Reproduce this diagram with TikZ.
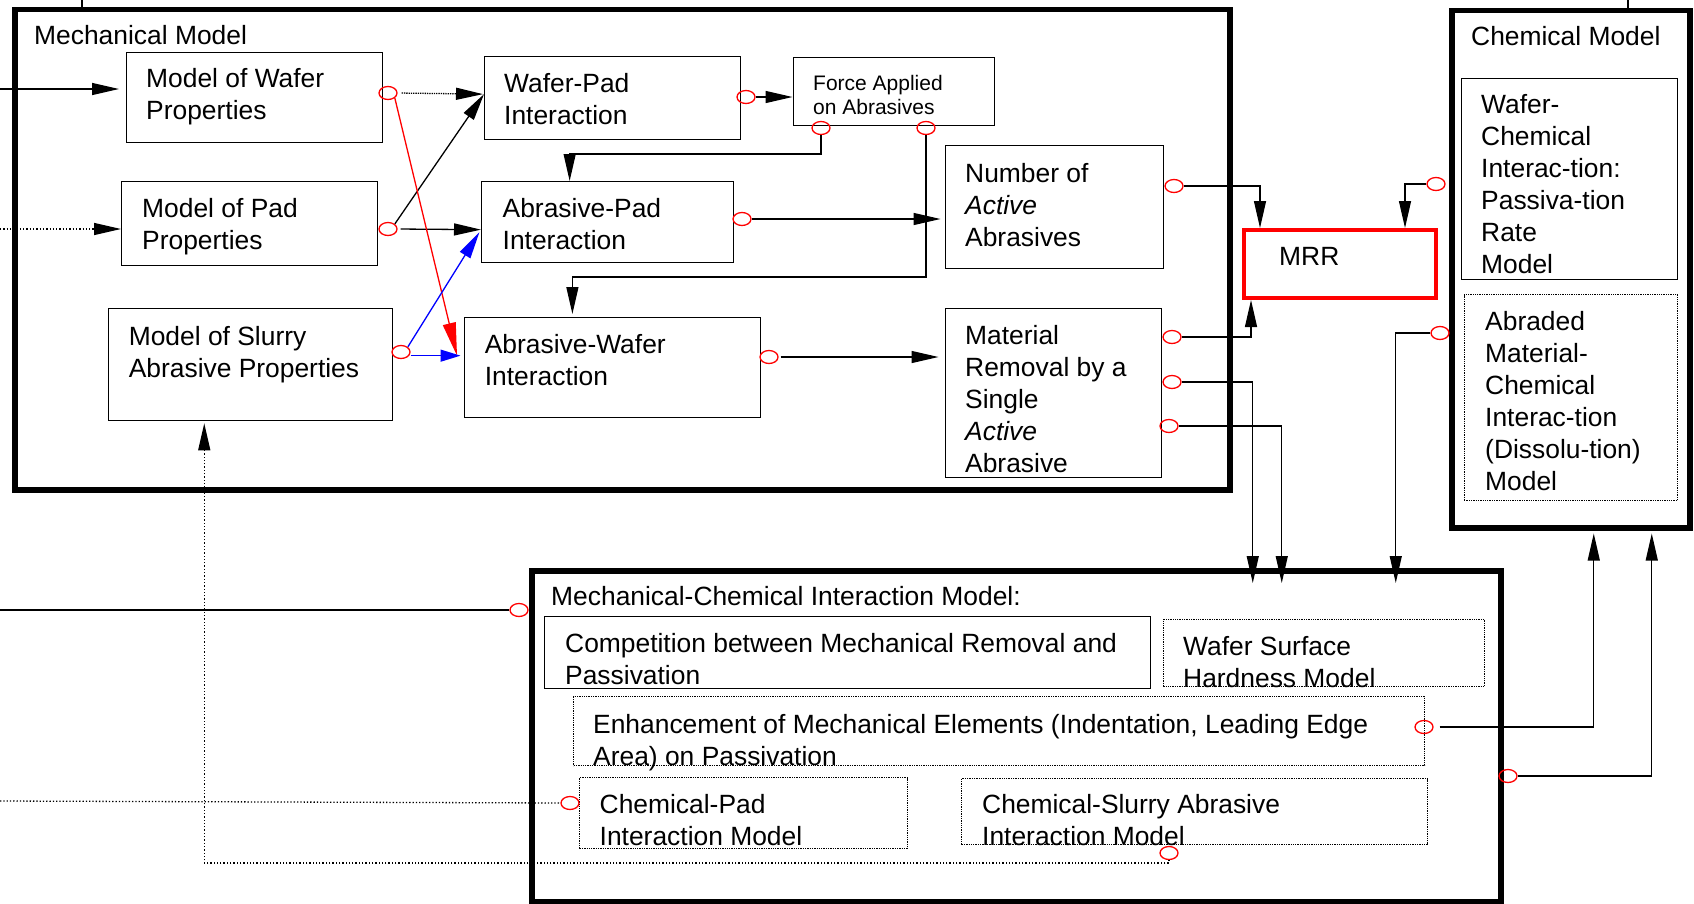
\documentclass[tikz,border=0pt]{standalone}
\usepackage{fontspec}
\setmainfont{Liberation Sans}
\usetikzlibrary{arrows.meta,shapes.geometric,calc}
\newcommand\fsmain{\fontsize{26.4}{32}\selectfont}
\newcommand\fssmall{\fontsize{21}{24}\selectfont}
\begin{document}
\begin{tikzpicture}[x=1pt,y=-1pt,
 box/.style={draw, line width=1.3pt, inner sep=0, anchor=north west},
 dbox/.style={box, densely dotted},
 big/.style={draw, line width=5.5pt, inner sep=0, anchor=north west},
 T/.style={anchor=north west, inner sep=0, align=left, font=\fsmain, execute at begin node=\strut, yshift=-3pt},
 Ts/.style={T, font=\fssmall},
 L/.style={anchor=base west, inner sep=0, font=\fsmain},
 port/.style={draw=red, ellipse, line width=1.3pt, minimum width=18pt, minimum height=13pt, inner sep=0},
 con/.style={line width=1.3pt},
 arr/.style={con, -{Triangle[length=27pt,width=12pt]}},
 arrs/.style={con, -{Triangle[length=20pt,width=12pt]}},
 arrr/.style={con, -{Triangle[length=33pt,width=13pt]}},
]
\fill[white] (0,0) rectangle (1694,903);
\useasboundingbox (0,0) rectangle (1694,903);

% outer boxes
\node[big, minimum width=1215pt, minimum height=480.5pt] (mech) at (12,6.5) {};
\node[big, minimum width=238pt, minimum height=517.5pt] (chem) at (1449,7.5) {};
\node[big, minimum width=969pt, minimum height=331pt] (mci) at (529,568) {};

% mechanical model boxes
\node[box, minimum width=256pt, minimum height=90pt] (wafer) at (126,52) {};
\node[box, minimum width=256pt, minimum height=84pt] (pad) at (121,181) {};
\node[box, minimum width=284pt, minimum height=112pt] (slurry) at (108,308) {};
\node[box, minimum width=256pt, minimum height=83pt] (wp) at (484,56) {};
\node[box, minimum width=201.5pt, minimum height=68pt] (force) at (792.5,57) {};
\node[box, minimum width=252pt, minimum height=81pt] (ap) at (481,181) {};
\node[box, minimum width=296.5pt, minimum height=100pt] (aw) at (463.5,317) {};
\node[box, minimum width=218.5pt, minimum height=123pt] (num) at (944.5,145) {};
\node[box, minimum width=216.5pt, minimum height=169pt] (mat) at (944.5,308) {};
\node[box, draw=red, line width=4pt, minimum width=192pt, minimum height=68pt] (mrr) at (1242,228) {};

% chemical model boxes
\node[box, minimum width=216pt, minimum height=201pt] (wc) at (1461,78) {};
\node[dbox, minimum width=213.5pt, minimum height=206pt] (abr) at (1463.5,294) {};

% mech-chem boxes
\node[box, minimum width=605.5pt, minimum height=72pt] (comp) at (544,616) {};
\node[dbox, minimum width=321.4pt, minimum height=67pt] (wsh) at (1162.6,619) {};
\node[dbox, minimum width=851pt, minimum height=69pt] (enh) at (573,696) {};
\node[dbox, minimum width=327.6pt, minimum height=71pt] (cpad) at (579,777) {};
\node[dbox, minimum width=466pt, minimum height=66pt] (cslur) at (961,778) {};

% texts
\node[L] (tmech) at (34,44) {Mechanical Model};
\node[T] (twafer) at (146,65) {Model of Wafer\\Properties};
\node[T] (tpad) at (142,195) {Model of Pad\\Properties};
\node[T] (tslurry) at (128.6,323) {Model of Slurry\\Abrasive Properties};
\node[T] (twp) at (504,70) {Wafer-Pad\\Interaction};
\node[Ts] (tforce) at (813,72.2) {Force Applied\\on Abrasives};
\node[T] (tap) at (502.5,195) {Abrasive-Pad\\Interaction};
\node[T] (taw) at (484.6,331) {Abrasive-Wafer\\Interaction};
\node[T] (tnum) at (965,160) {Number of\\\textit{Active}\\Abrasives};
\node[T] (tmat) at (965,322) {Material\\Removal by a\\Single\\\textit{Active}\\Abrasive};
\node[L] (tmrr) at (1279,265) {MRR};
\node[L] (tchem) at (1471,45) {Chemical Model};
\node[T] (twc) at (1481,91) {Wafer-\\Chemical\\Interac-tion:\\Passiva-tion\\Rate\\Model};
\node[T] (tabr) at (1485,308) {Abraded\\Material-\\Chemical\\Interac-tion\\(Dissolu-tion)\\Model};
\node[L] (tmci) at (551,605) {Mechanical-Chemical Interaction Model:};
\node[T] (tcomp) at (565,630) {Competition between Mechanical Removal and\\Passivation};
\node[T] (twsh) at (1183,633) {Wafer Surface\\Hardness Model};
\node[T] (tenh) at (593,711) {Enhancement of Mechanical Elements (Indentation, Leading Edge\\Area) on Passivation};
\node[T] (tcpad) at (599.5,791) {Chemical-Pad\\Interaction Model};
\node[T] (tcslur) at (982,791) {Chemical-Slurry Abrasive\\Interaction Model};

% ports
\node[port] (pw) at (388,93) {};
\node[port] (pp) at (388,229) {};
\node[port] (ps) at (401,352) {};
\node[port] (pwp) at (746,97) {};
\node[port] (pf1) at (821,128) {};
\node[port] (pf2) at (926,128) {};
\node[port] (pap) at (742,219) {};
\node[port] (paw) at (769,357) {};
\node[port] (pn) at (1174,186) {};
\node[port] (pm1) at (1172,337) {};
\node[port] (pm2) at (1172,382) {};
\node[port] (pm3) at (1169,426) {};
\node[port] (pwc) at (1436,184) {};
\node[port] (pabr) at (1440,333) {};
\node[port] (pmci) at (519,610) {};
\node[port] (pcp) at (570,803) {};
\node[port] (penh) at (1424,727) {};
\node[port] (pmcir) at (1508,776) {};
\node[port] (pcs) at (1169,853) {};

% coordinates
\coordinate (inW) at (0,89);
\coordinate (inP) at (0,229);
\coordinate (inM) at (0,610);
\coordinate (inC) at (0,801);
\coordinate (topL) at (82,0);
\coordinate (topR) at (1628,0);
\coordinate (wpIn) at ([yshift=4pt]wp.west);
\coordinate (apIn) at ([yshift=-7.5pt]ap.west);
\coordinate (awIn) at ([yshift=12pt]aw.west);
\coordinate (awRed) at ([xshift=-6.5pt,yshift=12pt]aw.west);
\coordinate (t1) at ([xshift=236.5pt,yshift=-15pt]mci.north);
\coordinate (t2) at ([xshift=265.5pt,yshift=-15pt]mci.north);
\coordinate (t3) at ([xshift=379.5pt,yshift=-15pt]mci.north);
\coordinate (u1) at ([xshift=23pt,yshift=-3pt]chem.south);
\coordinate (u2) at ([xshift=81pt,yshift=-3pt]chem.south);

% connectors
\draw[con] (topL) -- (topL |- mech.north);
\draw[con] (topR) -- (topR |- chem.north);
\draw[arr, shorten >=7pt] (inW) -- (inW -| wafer.west);
\draw[arr, dotted] (inP) -- (inP -| pad.west);
\draw[arr, densely dotted, shorten <=4pt, shorten >=1pt] (pw.east) -- (wpIn);
\draw[arr] (pp.north east) -- (wpIn);
\draw[arr, shorten <=3pt] (pp.east) -- (apIn);
\draw[arrr, red] (pw.south east) -- (awRed);
\draw[arr, blue, shorten >=3pt] (ps.north east) -- (apIn);
\draw[arrs, blue, shorten >=3pt] (ps.east |- awIn) -- (awIn);
\draw[arr] (pwp.east) -- (pwp.east -| force.west);
\draw[arr] (pf1.south) -- (pf1.south |- 0,154) -| ([xshift=-38pt]ap.north);
\draw[arr, shorten >=3pt] (pf2.south) -- (pf2.south |- 0,277) -| ([xshift=-40pt]aw.north);
\draw[arr, shorten >=4pt] (pap.east) -- (pap.east -| num.west);
\draw[arr, shorten >=6pt, shorten <=2pt] (paw.east) -- (paw.east -| mat.west);
\draw[arr] (pn.east) -| ([xshift=-80pt]mrr.north);
\draw[arr] (pwc.west) -| ([xshift=65pt]mrr.north);
\draw[arr] (pm1.east) -| ([xshift=-89pt]mrr.south);
\draw[arr] (pm2.east) -| (t1);
\draw[arr] (pm3.east) -| (t2);
\draw[arr] (pabr.west) -| (t3);
\draw[arr, shorten <=6pt] (penh.east) -| (u1);
\draw[arr] (pmcir.east) -| (u2);
\draw[con] (inM) -- (pmci.west);
\draw[con, dotted] (inC) -- (pcp.west);
\draw[arr, dotted, shorten >=2pt] (pcs.south) -- (pcs.south |- 0,863) -| ([xshift=-46.4pt]slurry.south);
\end{tikzpicture}
\end{document}
